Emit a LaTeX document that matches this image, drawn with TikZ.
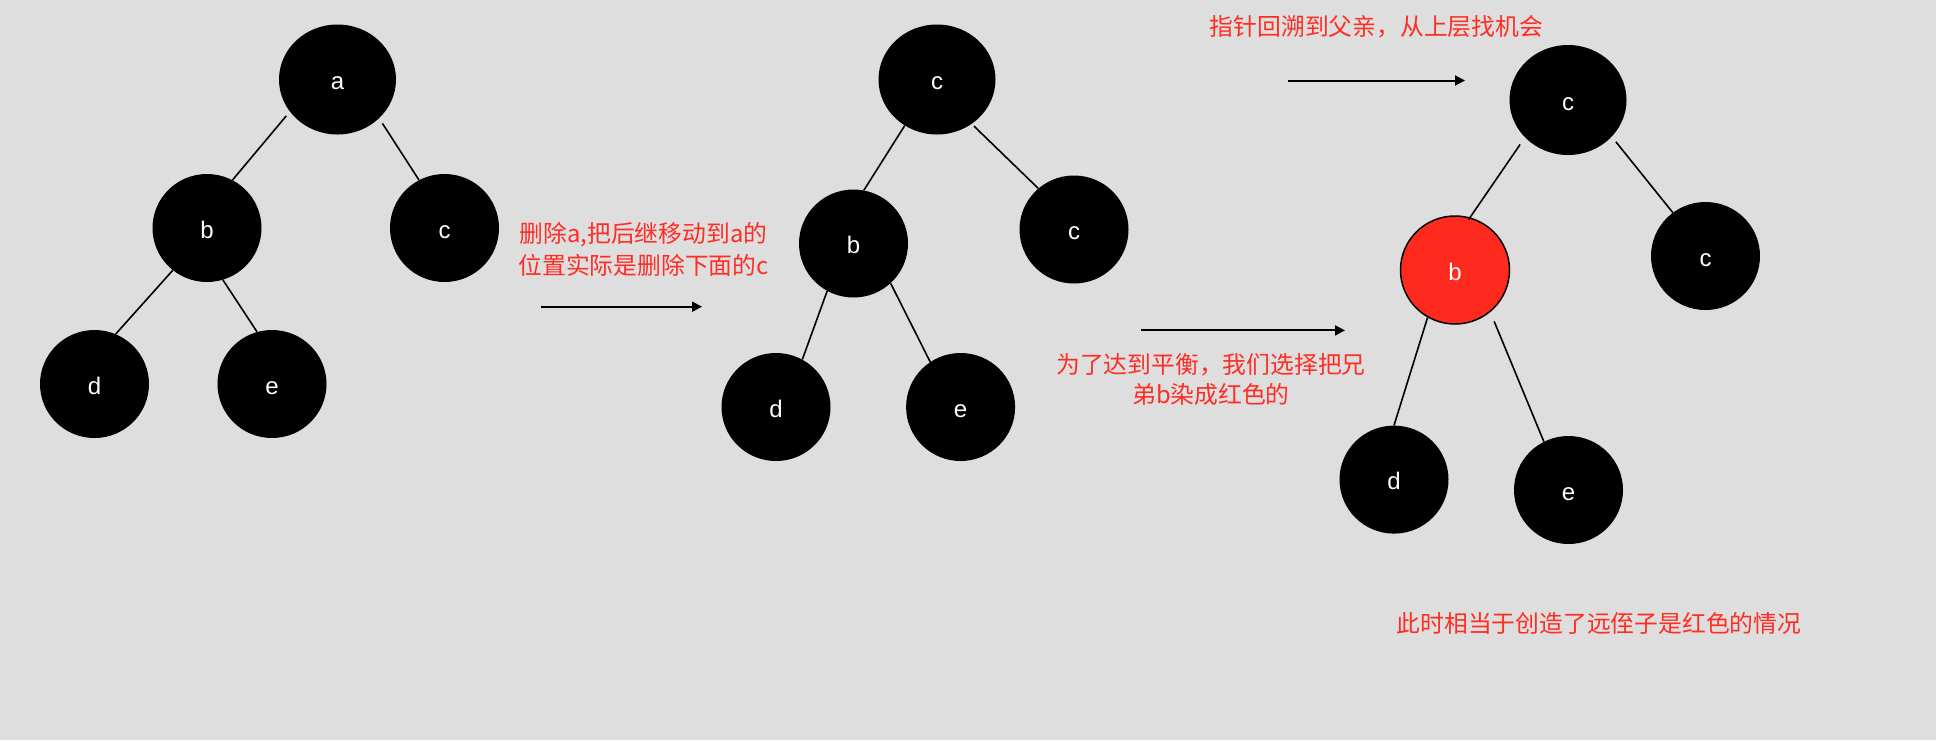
\documentclass[tikz,border=0pt]{standalone}
\usepackage{fontspec}
\setmainfont{Liberation Sans}
\newfontfamily\cjk{Noto Sans CJK SC}
\usetikzlibrary{arrows.meta,shapes.geometric}
\definecolor{bg}{RGB}{222,222,222}
\definecolor{rbred}{RGB}{255,42,30}
\definecolor{txtred}{RGB}{255,45,35}
\begin{document}
\begin{tikzpicture}[x=1pt,y=-1pt,
  topnode/.style={ellipse,fill=black,minimum width=117pt,minimum height=110pt,inner sep=0pt,text=white,text height=20pt,text depth=0pt,font=\fontsize{24}{28}\selectfont},
  treenode/.style={topnode,minimum width=109pt,minimum height=108pt},
  rednode/.style={treenode,fill=rbred,draw=black,line width=1.5pt},
  edge/.style={draw=black,line width=1.6pt},
  arr/.style={draw=black,line width=2pt,-{Triangle[length=10pt,width=10pt]}},
  note/.style={text=txtred,inner sep=0pt,align=center,font=\cjk\fontsize{23.8}{32}\selectfont}]
\useasboundingbox (0,0) rectangle (1936,740);
\fill[bg] (0,0) rectangle (1936,740);

% tree 1
\node[topnode]  (a1) at (337.5,79.5) {a};
\node[treenode] (b1) at (207,228) {b};
\node[treenode] (c1) at (444.5,228) {c};
\node[treenode] (d1) at (94.5,384) {d};
\node[treenode] (e1) at (272,384) {e};
\draw[edge,shorten <=5.5pt] (a1.214.6) -- (b1.62.5);
\draw[edge,shorten <=6pt] (a1.317) -- (c1.118.5);
\draw[edge] (b1.231.7) -- (d1.67.7);
\draw[edge] (b1.287.1) -- (e1.106.1);

% tree 2
\node[topnode]  (a2) at (937,79.5) {c};
\node[treenode] (b2) at (853.5,243.5) {b};
\node[treenode] (c2) at (1074,229.5) {c};
\node[treenode] (d2) at (776,407) {d};
\node[treenode] (e2) at (960.6,407) {e};
\draw[edge] (a2.235.8) -- (b2.79.8);
\draw[edge,shorten <=3pt] (a2.308.8) -- (c2.131.6);
\draw[edge] (b2.241.8) -- (d2.61.6);
\draw[edge] (b2.313.5) -- (e2.124);

% tree 3
\node[topnode]  (a3) at (1568,100) {c};
\node[rednode]  (b3) at (1455,270) {b};
\node[treenode] (c3) at (1705.5,256) {c};
\node[treenode] (d3) at (1394,479.6) {d};
\node[treenode] (e3) at (1568.5,490) {e};
\draw[edge,shorten <=8.5pt,shorten >=-3pt] (a3.221.6) -- (b3.74.5);
\draw[edge,shorten <=6.5pt] (a3.320.8) -- (c3.127.9);
\draw[edge] (b3.240.1) -- (d3.90);
\draw[edge,shorten <=10pt] (b3.310.6) -- (e3.117.5);

% arrows
\coordinate (p1s) at (541,306.7);
\coordinate (p1e) at (702,306.7);
\coordinate (p2s) at (1288,80.5);
\coordinate (p2e) at (1465,80.5);
\coordinate (p3s) at (1141,330.4);
\coordinate (p3e) at (1345,330.4);
\draw[arr] (p1s) -- (p1e);
\draw[arr] (p2s) -- (p2e);
\draw[arr] (p3s) -- (p3e);

% notes
\node[note] (t1) at (643.5,249) {删除a,把后继移动到a的\\位置实际是删除下面的c};
\node[note] (t2) at (1376.5,27) {指针回溯到父亲，从上层找机会};
\node[note,font=\cjk\fontsize{23.8}{30}\selectfont] (t3) at (1211,380) {为了达到平衡，我们选择把兄\\弟b染成红色的};
\node[note] (t4) at (1599,623) {此时相当于创造了远侄子是红色的情况};
\end{tikzpicture}
\end{document}
